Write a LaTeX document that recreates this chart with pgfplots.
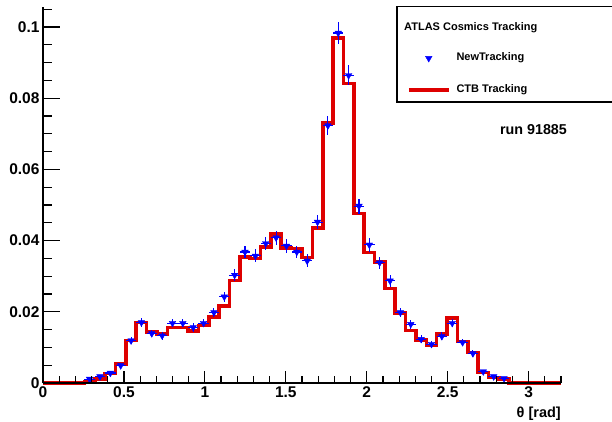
\documentclass[border=0pt]{standalone}
\usepackage{pgfplots}
\usepackage{pgfplotstable}
\usepackage{fontspec}
\setmainfont{Liberation Sans}
\pgfplotsset{compat=1.18}
\definecolor{rootred}{RGB}{222,0,0}
\definecolor{rootblue}{RGB}{0,0,255}

\pgfplotstableread{
x y
0.000 0
0.064 0
0.128 0
0.192 0
0.256 0.0004
0.320 0.0012
0.384 0.0027
0.448 0.0053
0.512 0.0119
0.576 0.0170
0.640 0.0144
0.704 0.0137
0.768 0.0156
0.832 0.0156
0.896 0.0146
0.960 0.0161
1.024 0.0186
1.088 0.0216
1.152 0.0288
1.216 0.0354
1.280 0.0350
1.344 0.0382
1.408 0.0418
1.472 0.0380
1.536 0.0378
1.600 0.0352
1.664 0.0436
1.728 0.0730
1.792 0.0969
1.856 0.0841
1.920 0.0476
1.984 0.0367
2.048 0.0340
2.112 0.0265
2.176 0.0196
2.240 0.0147
2.304 0.0121
2.368 0.0105
2.432 0.0137
2.496 0.0182
2.560 0.0117
2.624 0.0086
2.688 0.0030
2.752 0.0016
2.816 0.0011
2.880 0
2.944 0
3.008 0
3.072 0
3.136 0
3.200 0
}\ctbdata

\pgfplotstableread{
x y ey
0.288 0.0011 0.0003
0.352 0.0018 0.0004
0.416 0.0028 0.0005
0.480 0.0049 0.0007
0.544 0.0119 0.0010
0.608 0.0170 0.0012
0.672 0.0139 0.0011
0.736 0.0133 0.0011
0.800 0.0168 0.0012
0.864 0.0168 0.0012
0.928 0.0156 0.0012
0.992 0.0168 0.0012
1.056 0.0198 0.0013
1.120 0.0242 0.0015
1.184 0.0303 0.0017
1.248 0.0368 0.0018
1.312 0.0357 0.0018
1.376 0.0392 0.0019
1.440 0.0408 0.0019
1.504 0.0385 0.0019
1.568 0.0368 0.0018
1.632 0.0343 0.0018
1.696 0.0452 0.0020
1.760 0.0723 0.0026
1.824 0.0983 0.0030
1.888 0.0864 0.0028
1.952 0.0497 0.0021
2.016 0.0388 0.0019
2.080 0.0338 0.0017
2.144 0.0287 0.0016
2.208 0.0198 0.0013
2.272 0.0165 0.0012
2.336 0.0123 0.0011
2.400 0.0109 0.0010
2.464 0.0131 0.0011
2.528 0.0168 0.0012
2.592 0.0114 0.0010
2.656 0.0083 0.0009
2.720 0.0032 0.0005
2.784 0.0018 0.0004
2.848 0.0013 0.0003
}\newdata

\begin{document}
\begin{tikzpicture}
\path[use as bounding box] (-43pt,-38pt) rectangle (569pt,383pt);
% main axis: data, y ticks, legend
\begin{axis}[
  at={(0pt,0pt)}, anchor=south west,
  scale only axis, width=518pt, height=376.3pt,
  xmin=0, xmax=3.2, ymin=0, ymax=0.1057,
  axis lines*=left,
  axis line style={-, line width=1.2pt},
  clip=false,
  tick align=inside,
  xtick=\empty,
  ytick={0,0.02,0.04,0.06,0.08,0.1},
  minor ytick={0.005,0.01,0.015,0.025,0.03,0.035,0.045,0.05,0.055,0.065,0.07,0.075,0.085,0.09,0.095,0.105},
  major tick length=16.7pt, minor tick length=9pt,
  every tick/.style={line width=1.2pt, black},
  scaled y ticks=false,
  yticklabel style={/pgf/number format/fixed, /pgf/number format/precision=2},
  /pgf/number format/assume math mode=true,
  tick label style={font=\fontsize{15.5}{17}\selectfont\bfseries},
  legend style={at={(axis description cs:0.7027,0.877)}, anchor=north west,
    draw=none, fill=none, inner sep=0pt, outer sep=0pt,
    row sep=21.5pt, column sep=6pt,
    font=\fontsize{11}{13}\selectfont\bfseries,
    nodes={inner sep=0pt, text height=8pt, text depth=2.5pt}},
  legend cell align=left,
  reverse legend,
]
\addplot[const plot, rootred, line width=3.6pt, line join=miter,
  legend image code/.code={\draw[rootred, line width=3.5pt] (0pt,0pt) -- (40pt,0pt);}]
  table[x=x, y=y] {\ctbdata};
\addlegendentry{CTB Tracking}
\addplot[only marks, rootblue, mark=triangle*, mark size=3.8pt,
  mark options={rotate=180, fill=rootblue, draw=rootblue},
  error bars/.cd, y dir=both, y explicit, x dir=both, x fixed=0.032,
  error mark=none, error bar style={line width=1.1pt, rootblue},
  /pgfplots/legend image code/.code={\path[draw=none, fill=none] (0pt,0pt) rectangle (40pt,0.1pt); \path[draw=none] plot[mark=triangle*, mark size=3.8pt, mark options={rotate=180, fill=rootblue, draw=rootblue}] coordinates {(20pt,0pt)};}]
  table[x=x, y=y, y error=ey] {\newdata};
\addlegendentry{NewTracking}
\draw[line width=1.3pt] (axis description cs:0.6834,0.7468) rectangle (axis description cs:1.12,1.0);
\node[anchor=west, inner sep=0pt, font=\fontsize{11}{13}\selectfont\bfseries] at (axis description cs:0.6969,0.945) {ATLAS Cosmics Tracking};
\node[inner sep=0pt, font=\fontsize{14.3}{16}\selectfont\bfseries] at (axis description cs:0.9469,0.674) {run 91885};
\end{axis}
% second axis: x ticks and labels
\begin{axis}[
  at={(0pt,0pt)}, anchor=south west,
  scale only axis, width=518pt, height=376.3pt,
  xmin=0, xmax=3.2, ymin=0, ymax=0.1057,
  axis x line*=bottom, axis y line=none,
  axis line style={-, line width=1.2pt},
  tick align=inside,
  xtick={0,0.5,1,1.5,2,2.5,3},
  minor xtick={0.1,0.2,0.3,0.4,0.6,0.7,0.8,0.9,1.1,1.2,1.3,1.4,1.6,1.7,1.8,1.9,2.1,2.2,2.3,2.4,2.6,2.7,2.8,2.9,3.1,3.2},
  major tick length=11.7pt, minor tick length=6.7pt,
  every tick/.style={line width=1.2pt, black},
  /pgf/number format/assume math mode=true,
  tick label style={font=\fontsize{15.5}{17}\selectfont\bfseries},
  xlabel={θ [rad]},
  xlabel style={at={(axis description cs:1,-0.083)}, anchor=east, inner sep=0pt, font=\fontsize{14.5}{16}\selectfont\bfseries},
]
\addplot[draw=none, forget plot] coordinates {(0,0)};
\end{axis}
\end{tikzpicture}
\end{document}
